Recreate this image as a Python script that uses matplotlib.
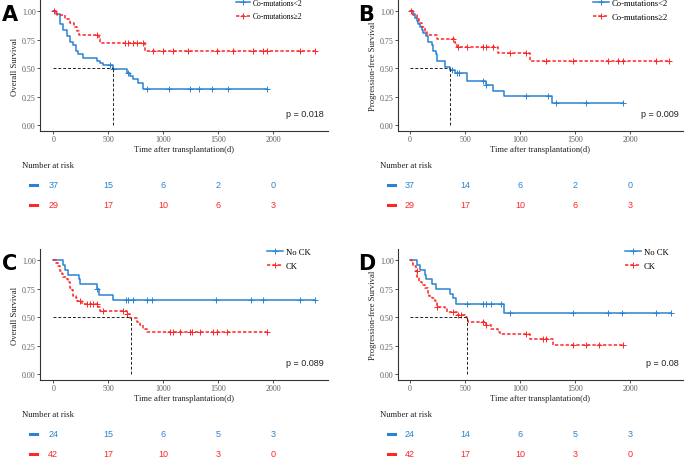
import numpy as np
import matplotlib
matplotlib.use("Agg")
import matplotlib.pyplot as plt
from matplotlib.lines import Line2D
from matplotlib import transforms

# Kaplan-Meier steps (days, survival)
# Panel A - overall survival, co-mutations
tA1 = [0, 24, 61, 91, 121, 152, 176, 206, 227, 273, 394, 424, 455, 539, 667, 697, 727, 773, 812]
sA1 = [1.0, 0.973, 0.892, 0.838, 0.784, 0.730, 0.703, 0.649, 0.622, 0.595, 0.568, 0.550, 0.530, 0.491, 0.460, 0.430, 0.408, 0.37, 0.318]
endA1 = 1939
cA1 = [515, 545, 676, 848, 1055, 1242, 1327, 1439, 1588, 1939]
tA2 = [0, 30, 106, 150, 188, 218, 233, 415, 424, 833]
sA2 = [1.0, 0.966, 0.931, 0.897, 0.862, 0.828, 0.793, 0.757, 0.72, 0.655]
endA2 = 2379
cA2 = [10, 394, 652, 682, 727, 758, 818, 909, 1000, 1091, 1227, 1485, 1636, 1818, 1909, 1939, 2242, 2379]

# Panel B - progression-free survival, co-mutations
tB1 = [0, 24, 45, 60, 76, 91, 106, 121, 145, 166, 196, 211, 236, 242, 317, 363, 408, 514, 695, 755, 852, 1287]
sB1 = [1.0, 0.973, 0.946, 0.919, 0.892, 0.865, 0.838, 0.811, 0.784, 0.73, 0.703, 0.649, 0.622, 0.568, 0.514, 0.487, 0.457, 0.39, 0.35, 0.30, 0.26, 0.195]
endB1 = 1934
cB1 = [378, 423, 447, 665, 695, 1057, 1254, 1323, 1601, 1934]
tB2 = [0, 24, 60, 85, 106, 136, 157, 242, 408, 423, 800, 1088]
sB2 = [1.0, 0.966, 0.931, 0.897, 0.862, 0.828, 0.793, 0.759, 0.721, 0.686, 0.631, 0.568]
endB2 = 2356
cB2 = [10, 393, 438, 514, 665, 695, 755, 906, 1057, 1238, 1480, 1804, 1895, 1934, 2235, 2356]

# Panel C - overall survival, CK
tC1 = [0, 91, 106, 136, 233, 242, 394, 418, 545]
sC1 = [1.0, 0.958, 0.917, 0.875, 0.833, 0.792, 0.75, 0.70, 0.65]
endC1 = 2379
cC1 = [394, 661, 682, 727, 848, 894, 1479, 1800, 1909, 2242, 2379]
tC2 = [0, 24, 45, 61, 76, 91, 121, 136, 152, 167, 182, 206, 218, 258, 409, 424, 667, 697, 758, 788, 818, 848]
sC2 = [1.0, 0.976, 0.952, 0.905, 0.881, 0.857, 0.833, 0.810, 0.762, 0.738, 0.690, 0.667, 0.643, 0.619, 0.590, 0.560, 0.530, 0.49, 0.46, 0.43, 0.40, 0.375]
endC2 = 1939
cC2 = [242, 309, 330, 364, 394, 455, 636, 673, 1061, 1091, 1152, 1242, 1258, 1333, 1455, 1485, 1576, 1939]

# Panel D - progression-free survival, CK
tD1 = [0, 66, 91, 136, 145, 196, 233, 363, 393, 414, 852]
sD1 = [1.0, 0.958, 0.917, 0.875, 0.833, 0.792, 0.75, 0.708, 0.667, 0.62, 0.54]
endD1 = 2371
cD1 = [514, 665, 695, 740, 830, 906, 1480, 1804, 1925, 2235, 2371]
tD2 = [0, 15, 30, 54, 66, 79, 106, 136, 160, 175, 196, 227, 242, 317, 332, 423, 498, 514, 529, 695, 740, 801, 816, 1088, 1299]
sD2 = [1.0, 0.976, 0.952, 0.905, 0.857, 0.810, 0.786, 0.762, 0.714, 0.690, 0.667, 0.643, 0.595, 0.571, 0.548, 0.524, 0.50, 0.487, 0.458, 0.43, 0.40, 0.37, 0.35, 0.31, 0.26]
endD2 = 1934
cD2 = [60, 242, 393, 438, 468, 665, 695, 1057, 1208, 1238, 1480, 1601, 1722, 1934]

medians = [539, 363, 703, 520]
pvalues = ["p = 0.018", "p = 0.009", "p = 0.089", "p = 0.08"]
ylabels = ["Overall Survival", "Progression-free Survival", "Overall Survival", "Progression-free Survival"]
letters = ["A", "B", "C", "D"]
legend_mut = ["Co-mutations<2", "Co-mutations\u22652"]
legend_ck = ["No CK", "CK"]

risk_times = [0, 500, 1000, 1500, 2000]
riskA = [[37, 15, 6, 2, 0], [29, 17, 10, 6, 3]]
riskB = [[37, 14, 6, 2, 0], [29, 17, 10, 6, 3]]
riskC = [[24, 15, 6, 5, 3], [42, 17, 10, 3, 0]]
riskD = [[24, 14, 6, 5, 3], [42, 17, 10, 3, 0]]

BLUE = "#2a83d2"
RED = "#ff2626"
SERIF = ["Liberation Serif", "DejaVu Serif"]
SANS = ["Liberation Sans", "DejaVu Sans"]

W, H = 685, 460
fig = plt.figure(figsize=(W / 100, H / 100), dpi=100)


def fx(px):
    return px / W


def fy(py):
    return 1 - py / H


def km(ax, t, s, tend, cens, color, ls):
    x = list(t) + [tend]
    y = list(s) + [s[-1]]
    ax.step(x, y, where="post", color=color, lw=1.1, ls=ls)
    idx = np.searchsorted(t, cens, side="right") - 1
    ax.plot(cens, np.array(s)[idx], ls="none", marker="+", ms=4, mew=0.7, color=color)


panels = [
    # spine_x, 0 position, top, bottom
    (40, 53.3, 1, 132, tA1, sA1, endA1, cA1, tA2, sA2, endA2, cA2, legend_mut, riskA, 236, 5.5),
    (398, 410, 1, 132, tB1, sB1, endB1, cB1, tB2, sB2, endB2, cB2, legend_mut, riskB, 593, 6.2),
    (40, 53.3, 250, 381, tC1, sC1, endC1, cC1, tC2, sC2, endC2, cC2, legend_ck, riskC, 267, 6.2),
    (398, 410, 250, 381, tD1, sD1, endD1, cD1, tD2, sD2, endD2, cD2, legend_ck, riskD, 625, 6.2),
]

red_ls = (0, (2.2, 1.3))
scale = 0.11  # px per day

for i, (x0, zero, top, bot, t1, s1, e1, c1, t2, s2, e2, c2, labs, risk, legx, legfs) in enumerate(panels):
    right = min(x0 + 288, 683)
    ax = fig.add_axes([fx(x0), fy(bot), fx(right - x0), (bot - top) / H])
    ax.set_xlim((x0 - zero) / scale, (right - zero) / scale)
    ax.set_ylim(-0.05, 1.1)

    km(ax, t1, s1, e1, c1, BLUE, "-")
    km(ax, t2, s2, e2, c2, RED, red_ls)

    m = medians[i]
    ax.plot([0, m], [0.5, 0.5], color="#222222", lw=0.7, ls=(0, (3, 2)))
    ax.plot([m, m], [0, 0.5], color="#222222", lw=0.7, ls=(0, (3, 2)))

    for sp in ["top", "right"]:
        ax.spines[sp].set_visible(False)
    for sp in ["left", "bottom"]:
        ax.spines[sp].set_color("#333333")
        ax.spines[sp].set_linewidth(0.8)
    ax.set_xticks([0, 500, 1000, 1500, 2000])
    ax.set_yticks([0, 0.25, 0.5, 0.75, 1.0])
    ax.set_yticklabels(["0.00", "0.25", "0.50", "0.75", "1.00"])
    ax.tick_params(length=2, width=0.6, pad=1, labelsize=5.8, colors="#333333", labelcolor="#606060")
    for lab in ax.get_xticklabels() + ax.get_yticklabels():
        lab.set_family(SERIF)
    ax.set_xlabel("Time after transplantation(d)", fontsize=6.2, family=SERIF, labelpad=1, color="#222222")
    ax.set_ylabel(ylabels[i], fontsize=6.2, family=SERIF, labelpad=2, color="#222222")

    ax.text(0.985, 0.13, pvalues[i], transform=ax.transAxes, ha="right", va="center",
            fontsize=6.5, family=SANS, color="#222222")

    handles = [Line2D([], [], color=BLUE, lw=1.1, marker="+", ms=4, mew=0.7),
               Line2D([], [], color=RED, lw=1.1, ls=red_ls, marker="+", ms=4, mew=0.7)]
    ax.legend(handles, labs, loc="upper left", bbox_to_anchor=(fx(legx), fy(top - 1)),
              bbox_transform=fig.transFigure, frameon=False, borderpad=0, borderaxespad=0,
              handlelength=1.8, handletextpad=0.4, labelspacing=0.7, numpoints=1,
              prop={"family": SERIF, "size": legfs})

    # panel letter
    fig.text(fx(x0 - 38 if x0 < 100 else x0 - 40), fy(top + 14), letters[i], fontsize=15,
             fontweight="bold", family=["DejaVu Sans"], ha="left", va="center")

    # risk table
    base = top - 1 + 166
    fig.text(fx(x0 - 18), fy(base), "Number at risk", fontsize=6.2, family=SERIF,
             ha="left", va="center", color="#222222")
    tr = transforms.blended_transform_factory(ax.transData, fig.transFigure)
    for r, (row, col) in enumerate(zip(risk, [BLUE, RED])):
        yy = base + 20 * (r + 1)
        fig.add_artist(Line2D([fx(x0 - 10.5), fx(x0 - 3.5)], [fy(yy), fy(yy)],
                              color=col, lw=2.2, transform=fig.transFigure))
        for tt, n in zip(risk_times, row):
            ax.text(tt, fy(yy), str(n), transform=tr, ha="center", va="center",
                    fontsize=6.5, family=SANS, color=col, clip_on=False)

fig.savefig("out.png", dpi=100)
